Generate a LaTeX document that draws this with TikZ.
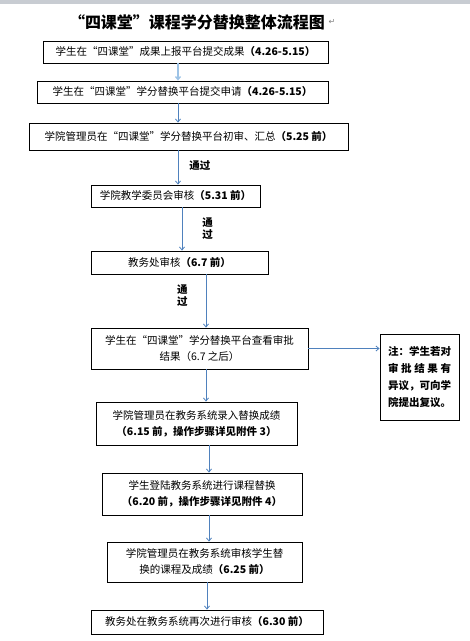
\documentclass[tikz,border=0pt]{standalone}
\usepackage{fontspec}
\setmainfont{Noto Sans CJK SC}
\newfontfamily\symfont{DejaVu Sans}
\usepackage{xcolor}
\usetikzlibrary{arrows.meta,positioning}
\definecolor{flowblue}{HTML}{4F81BD}
\definecolor{flowlight}{HTML}{9DC3E6}
\definecolor{bargray}{HTML}{C8CCD2}

\begin{document}
\begin{tikzpicture}[
  x=1pt,y=-1pt,
  font=\fontsize{10.5}{16}\selectfont,
  box/.style={draw,line width=0.9pt,align=center,inner sep=2pt},
  arrow/.style={-{Straight Barb[length=3pt,width=5pt]},draw=flowblue,line width=0.8pt},
  passlbl/.style={font=\fontsize{10.5}{12}\selectfont\bfseries,align=center,inner sep=1pt}
]
\useasboundingbox (0,0) rectangle (470,641);
\fill[bargray] (0,0) rectangle (470,4);
\node[font=\fontsize{16}{18}\selectfont\bfseries] (title) at (197,22) {“四课堂”课程学分替换整体流程图};
\node[right=0pt of title,font=\symfont\fontsize{8}{8}\selectfont,text=gray,inner sep=0pt] (ret) {↵};

\node[box,minimum width=285,minimum height=22] (b1) at (185.5,52) {学生在“四课堂”成果上报平台提交成果\textbf{（4.26-5.15）}};
\node[box,minimum width=291,minimum height=22] (b2) at (182.5,92) {学生在“四课堂”学分替换平台提交申请\textbf{（4.26-5.15）}};
\node[box,minimum width=319,minimum height=27] (b3) at (188.5,136.5) {学院管理员在“四课堂”学分替换平台初审、汇总\textbf{（5.25 前）}};
\node[box,minimum width=169,minimum height=22] (b4) at (175.5,196) {学院教学委员会审核\textbf{（5.31 前）}};
\node[box,minimum width=177,minimum height=23] (b5) at (179.5,262.5) {教务处审核\textbf{（6.7 前）}};
\node[box,minimum width=217,minimum height=41] (b6) at (199.5,348.5) {学生在“四课堂”学分替换平台查看审批\\结果（6.7 之后）};
\node[box,minimum width=79,minimum height=86,font=\fontsize{10.5}{17}\selectfont\bfseries,align=left] (note) at (419.5,377)
  {注：学生若对\\\makebox[63pt][s]{审\hfill 批\hfill 结\hfill 果\hfill 有}\\异议，可向学\\院提出复议。};
\node[box,minimum width=201,minimum height=43] (b7) at (196.5,423.5) {学院管理员在教务系统录入替换成绩\\\textbf{（6.15 前，操作步骤详见附件 3）}};
\node[box,minimum width=200,minimum height=42] (b8) at (202,494) {学生登陆教务系统进行课程替换\\\textbf{（6.20 前，操作步骤详见附件 4）}};
\node[box,minimum width=195,minimum height=40] (b9) at (204.5,562) {学院管理员在教务系统审核学生替\\换的课程及成绩\textbf{（6.25 前）}};
\node[box,minimum width=232,minimum height=24] (b10) at (207,622) {教务处在教务系统再次进行审核\textbf{（6.30 前）}};

% connectors
\draw[arrow,draw=flowlight,line width=1.3pt] ([xshift=-7.5pt]b1.south) -- ([xshift=-4.5pt]b2.north);
\draw[arrow] ([xshift=-4.5pt]b2.south) -- ([xshift=-10.5pt]b3.north);
\draw[arrow] ([xshift=-10.5pt]b3.south) -- node[passlbl,right=10pt,yshift=2pt] {通过} ([xshift=2.5pt]b4.north);
\draw[arrow] ([xshift=6.5pt]b4.south) -- node[passlbl,right=19pt] {通\\过} ([xshift=2.5pt]b5.north);
\draw[arrow] ([xshift=26.5pt]b5.south) -- node[passlbl,left=17pt,yshift=5pt] {通\\过} ([xshift=6.5pt]b6.north);
\draw[arrow] (b6.east) -- (b6.east -| note.west);
\draw[arrow] ([xshift=6.5pt]b6.south) -- ([xshift=9.5pt]b7.north);
\draw[arrow] ([xshift=12.5pt]b7.south) -- ([xshift=7pt]b8.north);
\draw[arrow] ([xshift=7pt]b8.south) -- ([xshift=4.5pt]b9.north);
\draw[arrow] ([xshift=2.5pt]b9.south) -- (b10.north);
\end{tikzpicture}
\end{document}
